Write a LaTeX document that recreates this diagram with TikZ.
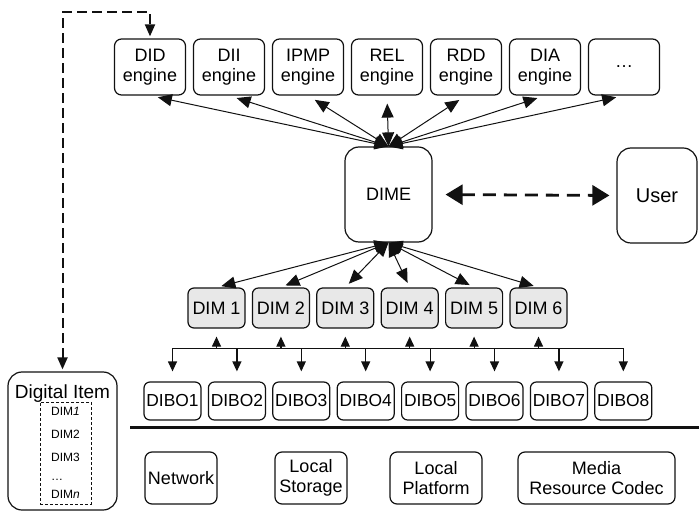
\documentclass[tikz,border=0pt]{standalone}
\usepackage{fontspec}
\setsansfont{Liberation Sans}
\usetikzlibrary{arrows.meta,positioning}
\definecolor{scanInk}{HTML}{111111}
\definecolor{scanGrey}{HTML}{E8E8E8}
\tikzset{
  dmArrow/.style={{Triangle[length=7pt,width=6pt]}-{Triangle[length=7pt,width=6pt]}, line width=0.5pt, draw=scanInk},
  dmBus/.style={-{Triangle[length=5pt,width=4.5pt]}, line width=0.6pt, draw=scanInk},
  dmEngine/.style={
    draw=scanInk,
    rounded corners=3.5pt,
    line width=0.6pt,
    align=center,
    minimum width=35.5pt,
    minimum height=28pt,
    inner sep=1pt
  },
  dmPart/.style={
    draw=scanInk,
    fill=scanGrey,
    rounded corners=3pt,
    line width=0.6pt,
    align=center,
    minimum width=28.5pt,
    minimum height=20pt,
    inner sep=0.5pt
  },
  dmObject/.style={
    draw=scanInk,
    rounded corners=3pt,
    line width=0.6pt,
    align=center,
    minimum width=28.5pt,
    minimum height=19pt,
    inner sep=0.5pt,
    font=\sffamily\fontsize{8.7}{10}\selectfont
  },
  dmRes/.style={
    draw=scanInk,
    rounded corners=3.5pt,
    line width=0.6pt,
    align=center,
    minimum height=26pt,
    inner sep=1pt
  },
  dmCore/.style={
    draw=scanInk,
    rounded corners=7pt,
    line width=0.6pt,
    align=center,
    inner sep=1pt
  }
}

\begin{document}
\begin{tikzpicture}[
      x=0.5pt, y=-0.5pt,
      font=\sffamily\fontsize{9}{10}\selectfont,
      node distance=3.1pt,
      dashLink/.style={{Triangle[length=6pt,width=5pt]}-{Triangle[length=6pt,width=5pt]}, line width=1pt, dash pattern=on 5pt off 2.5pt, draw=scanInk},
      userLink/.style={{Triangle[length=8.5pt,width=10pt]}-{Triangle[length=8.5pt,width=10pt]}, line width=1.4pt, dash pattern=on 6.5pt off 4pt, draw=scanInk}
    ]
      \useasboundingbox (0,0) rectangle (699,512);

      \node[dmEngine] (did) at (150,67) {DID\\engine};
      \node[dmEngine, right=3.4pt of did] (dii) {DII\\engine};
      \node[dmEngine, right=3.4pt of dii] (ipmp) {IPMP\\engine};
      \node[dmEngine, right=3.4pt of ipmp] (rel) {REL\\engine};
      \node[dmEngine, right=3.4pt of rel] (rdd) {RDD\\engine};
      \node[dmEngine, right=3.4pt of rdd] (dia) {DIA\\engine};
      \node[dmEngine, right=3.4pt of dia] (more) {\ldots};

      \node[dmCore, minimum width=43.5pt, minimum height=47.5pt] (dime) at (388.5,194.5) {DIME};
      \node[dmCore, minimum width=40pt, minimum height=47.5pt, font=\sffamily\fontsize{10}{11}\selectfont] (user) at (657,195.5) {User};

      \node[dmPart] (dim1) at (216.5,308) {DIM 1};
      \node[dmPart, right=of dim1] (dim2) {DIM 2};
      \node[dmPart, right=of dim2] (dim3) {DIM 3};
      \node[dmPart, right=of dim3] (dim4) {DIM 4};
      \node[dmPart, right=of dim4] (dim5) {DIM 5};
      \node[dmPart, right=of dim5] (dim6) {DIM 6};

      \node[dmObject] (dibo1) at (172.5,401) {DIBO1};
      \node[dmObject, right=of dibo1] (dibo2) {DIBO2};
      \node[dmObject, right=of dibo2] (dibo3) {DIBO3};
      \node[dmObject, right=of dibo3] (dibo4) {DIBO4};
      \node[dmObject, right=of dibo4] (dibo5) {DIBO5};
      \node[dmObject, right=of dibo5] (dibo6) {DIBO6};
      \node[dmObject, right=of dibo6] (dibo7) {DIBO7};
      \node[dmObject, right=of dibo7] (dibo8) {DIBO8};

      \node[dmRes, minimum width=36pt] (network) at (181,478) {Network};
      \node[dmRes, minimum width=36pt] (storage) at (311,478) {Local\\Storage};
      \node[dmRes, minimum width=46pt] (platform) at (436,478) {Local\\Platform};
      \node[dmRes, minimum width=78.5pt] (codec) at (596.5,478) {Media\\Resource Codec};

      % digital item on the left
      \node[dmCore, minimum width=54.5pt, minimum height=69pt] (item) at (62.5,441) {};
      \node[font=\sffamily\fontsize{9.5}{10}\selectfont, inner sep=0pt] (itemTitle) at (62.5,394) {Digital Item};
      \node[draw=scanInk, line width=0.4pt, dash pattern=on 1.5pt off 1pt, minimum width=25.5pt, minimum height=51pt, align=left, inner sep=1pt,
            font=\sffamily\fontsize{6}{11.5}\selectfont] (itemList) at (65.5,453)
            {DIM\textit{1}\\DIM2\\DIM3\\[-2pt]\ldots\\[-2.5pt]DIM\textit{n}};

      \coordinate (sepL) at (130,427);
      \coordinate (sepR) at (699,427);
      \draw[line width=1.5pt, draw=scanInk] (sepL) -- (sepR);

      \draw[dmArrow, shorten >=4pt] (dime.north) -- (did.south);
      \draw[dmArrow, shorten >=4pt] (dime.north) -- (dii.south);
      \draw[dmArrow, shorten >=4pt] (dime.north) -- (ipmp.south);
      \draw[dmArrow, shorten >=4pt] (dime.north) -- (rel.south);
      \draw[dmArrow, shorten >=4pt] (dime.north) -- (rdd.south);
      \draw[dmArrow, shorten >=4pt] (dime.north) -- (dia.south);
      \draw[dmArrow, shorten >=4pt] (dime.north) -- (more.south);

      \draw[dmArrow, shorten >=2.5pt] (dime.south) -- (dim1.north);
      \draw[dmArrow, shorten >=2.5pt] (dime.south) -- (dim2.north);
      \draw[dmArrow, shorten >=2.5pt] (dime.south) -- (dim3.north);
      \draw[dmArrow, shorten >=2.5pt] (dime.south) -- (dim4.north);
      \draw[dmArrow, shorten >=2.5pt] (dime.south) -- (dim5.north);
      \draw[dmArrow, shorten >=2.5pt] (dime.south) -- (dim6.north);

      \draw[userLink, shorten <=6.5pt, shorten >=3.5pt] (dime.east) -- (user.west);
      \draw[dashLink, shorten <=1pt, shorten >=1pt] (item.north) |- ([yshift=13pt]did.north) -- (did.north);

      % bus between DIMs and DIBOs
      \coordinate (busL) at ([yshift=16.5pt]dibo1.north);
      \coordinate (busR) at ([yshift=16.5pt]dibo8.north);
      \draw[line width=0.6pt, draw=scanInk] (busL) -- (busR);
      \draw[dmBus, shorten >=4pt] (dim1.south |- busL) -- (dim1.south);
      \draw[dmBus, shorten >=4pt] (dim2.south |- busL) -- (dim2.south);
      \draw[dmBus, shorten >=4pt] (dim3.south |- busL) -- (dim3.south);
      \draw[dmBus, shorten >=4pt] (dim4.south |- busL) -- (dim4.south);
      \draw[dmBus, shorten >=4pt] (dim5.south |- busL) -- (dim5.south);
      \draw[dmBus, shorten >=4pt] (dim6.south |- busL) -- (dim6.south);
      \draw[dmBus, shorten >=5pt] (dibo1.north |- busL) -- (dibo1.north);
      \draw[dmBus, shorten >=5pt] (dibo2.north |- busL) -- (dibo2.north);
      \draw[dmBus, shorten >=5pt] (dibo3.north |- busL) -- (dibo3.north);
      \draw[dmBus, shorten >=5pt] (dibo4.north |- busL) -- (dibo4.north);
      \draw[dmBus, shorten >=5pt] (dibo5.north |- busL) -- (dibo5.north);
      \draw[dmBus, shorten >=5pt] (dibo6.north |- busL) -- (dibo6.north);
      \draw[dmBus, shorten >=5pt] (dibo7.north |- busL) -- (dibo7.north);
      \draw[dmBus, shorten >=5pt] (dibo8.north |- busL) -- (dibo8.north);
    \end{tikzpicture}
\end{document}
